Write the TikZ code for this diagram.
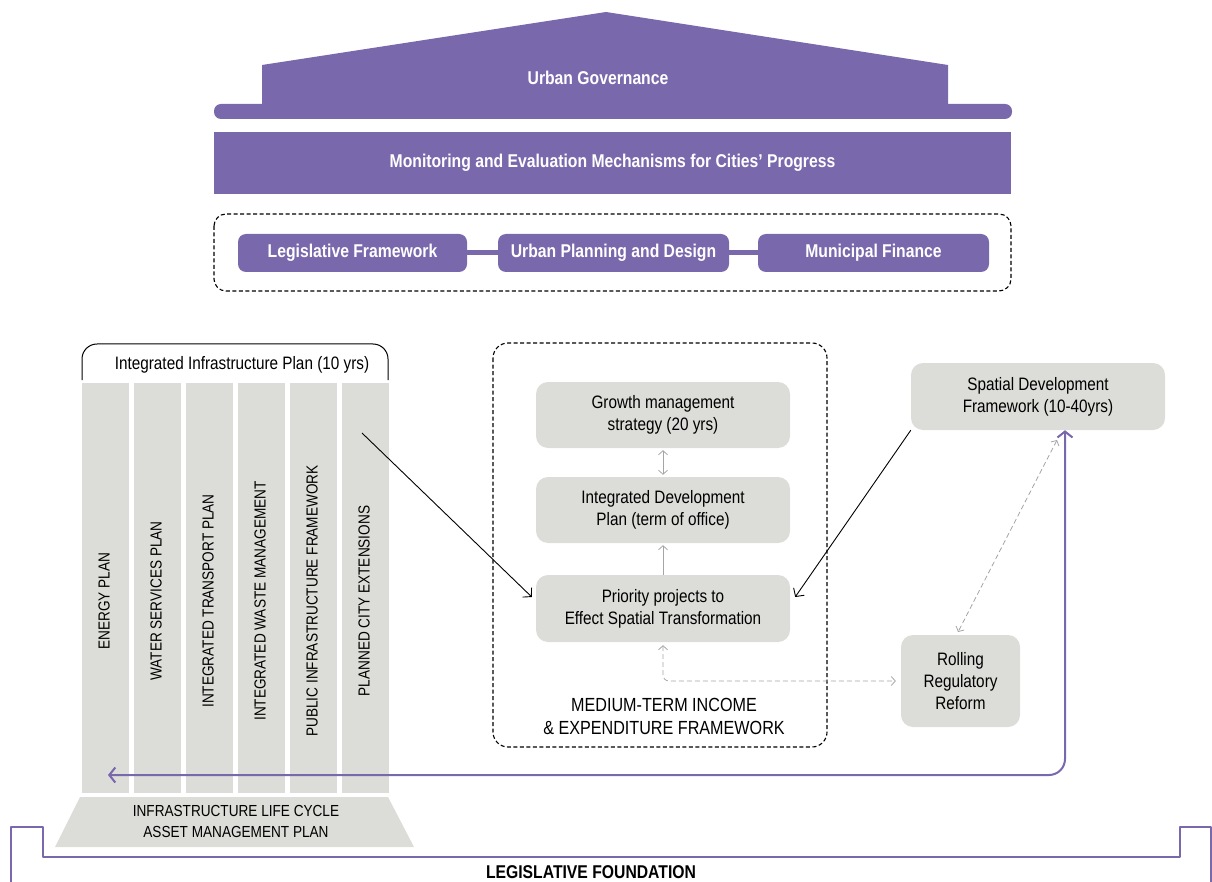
\documentclass[tikz,border=0pt]{standalone}
\usepackage{fontspec}
\setmainfont{Liberation Sans}[FakeStretch=0.85]
\usetikzlibrary{arrows.meta}
\definecolor{govpurple}{RGB}{122,104,173}
\definecolor{boxgray}{RGB}{220,220,216}
\definecolor{arrgray}{RGB}{165,165,165}
\begin{document}
\begin{tikzpicture}[x=1pt, y=1pt, line join=round,
	txt/.style={font=\fontsize{18}{22}\selectfont, align=center, inner sep=0pt},
	btxt/.style={font=\fontsize{18.5}{22}\selectfont\bfseries, text=white, align=center, inner sep=0pt},
	graybox/.style={txt, fill=boxgray, rounded corners=12pt},
	purplebox/.style={btxt, fill=govpurple, rounded corners=8pt, minimum width=231pt, minimum height=38pt},
	pillar/.style={fill=boxgray, minimum width=47pt, minimum height=410pt, inner sep=0pt},
	frame/.style={dash pattern=on 4pt off 2.5pt, line width=1.1pt},
	btip/.style={->, line width=0.9pt, >={Straight Barb[length=6pt,width=13pt]}},
	gtip/.style={draw=arrgray, line width=0.8pt, >={Straight Barb[length=4pt,width=9pt]}},
	gdash/.style={dash pattern=on 5pt off 3pt},
	ptip/.style={draw=govpurple, line width=2pt, >={Straight Barb[length=6pt,width=15pt]}}]
	\useasboundingbox (0,0) rectangle (1212,-882);
	% roof
	\fill[govpurple] (262,-106) -- (262,-65) -- (606,-12) -- (948,-65) -- (948,-106) -- cycle;
	\fill[govpurple, rounded corners=7pt] (214,-104) rectangle (1012,-119);
	\node[btxt] (gov) at (598,-78) {Urban Governance};
	\node[btxt, fill=govpurple, minimum width=797pt, minimum height=62pt] (mon) at (612.5,-163) {Monitoring and Evaluation Mechanisms for Cities' Progress};
	\draw[frame, rounded corners=12pt] (214,-214) rectangle (1011,-291);
	\node[purplebox, minimum width=229pt] (leg) at (352.5,-253) {Legislative Framework};
	\node[purplebox] (upd) at (613.5,-253) {Urban Planning and Design};
	\node[purplebox] (fin) at (873.5,-253) {Municipal Finance};
	\draw[govpurple, line width=5pt] (leg) -- (upd) (upd) -- (fin);
	% pillars
	\draw[line width=1pt, rounded corners=15pt] (82,-380) -- (82,-344) -- (388,-344) -- (388,-380);
	\node[txt] (iip) at (242,-365) {Integrated Infrastructure Plan (10 yrs)};
	\foreach \lab [count=\i from 0] in {ENERGY PLAN, WATER SERVICES PLAN, INTEGRATED TRANSPORT PLAN, INTEGRATED WASTE MANAGEMENT, PUBLIC INFRASTRUCTURE FRAMEWORK, PLANNED CITY EXTENSIONS}{
		\node[pillar] (p\i) at (105.5+52*\i,-588) {};
		\node[txt, rotate=90, font=\fontsize{16}{20}\selectfont] (pl\i) at (104+52*\i,-601) {\lab};
	}
	\fill[boxgray] (80,-797) -- (388,-797) -- (414,-847) -- (55,-847) -- cycle;
	\node[txt, font=\fontsize{16}{21}\selectfont] (lcp) at (236,-821) {INFRASTRUCTURE LIFE CYCLE\\ASSET MANAGEMENT PLAN};
	% medium-term framework
	\draw[frame, rounded corners=15pt] (493,-343) rectangle (827,-747);
	\node[graybox, minimum width=254pt, minimum height=66pt] (gms) at (663,-415) {Growth management\\strategy (20 yrs)};
	\node[graybox, minimum width=254pt, minimum height=66pt] (idp) at (663,-510) {Integrated Development\\Plan (term of office)};
	\node[graybox, minimum width=254pt, minimum height=67pt] (ppj) at (663,-608.5) {Priority projects to\\Effect Spatial Transformation};
	\node[txt, font=\fontsize{19}{23}\selectfont] (mtef) at (664,-716) {MEDIUM-TERM INCOME\\\& EXPENDITURE FRAMEWORK};
	\node[graybox, minimum width=254pt, minimum height=67pt] (sdf) at (1038,-396.5) {Spatial Development\\Framework (10-40yrs)};
	\node[graybox, minimum width=119pt, minimum height=92pt] (rrr) at (960.5,-681) {Rolling\\Regulatory\\Reform};
	% connectors
	\draw[gtip, <->, shorten <=2pt, shorten >=2pt] (gms) -- (idp);
	\draw[gtip, ->, shorten >=2pt] (ppj) -- (idp);
	\draw[gtip, gdash, <->, rounded corners=6pt, shorten <=3pt, shorten >=5pt] (ppj.south) |- (rrr.west);
	\coordinate (sdfa) at (1057,-440);
	\coordinate (rrra) at (958,-632);
	\draw[gtip, gdash, <->] (sdfa) -- (rrra);
	\coordinate (pce) at (362,-433);
	\draw[btip] (pce) -- ([shift={(-4pt,11.5pt)}]ppj.west);
	\draw[btip] (sdf.south west) -- ([shift={(5pt,11.5pt)}]ppj.east);
	\coordinate (pback) at (108,-775);
	\draw[ptip, <->, rounded corners=16pt] (pback) -| ([xshift=27pt]sdf.south);
	% foundation
	\draw[govpurple, line width=2.2pt] (11,-882) -- (11,-827) -- (43,-827) -- (43,-857) -- (1180,-857) -- (1180,-827) -- (1211,-827) -- (1211,-882);
	\node[btxt, text=black] (fnd) at (591,-872) {LEGISLATIVE FOUNDATION};
\end{tikzpicture}
\end{document}
